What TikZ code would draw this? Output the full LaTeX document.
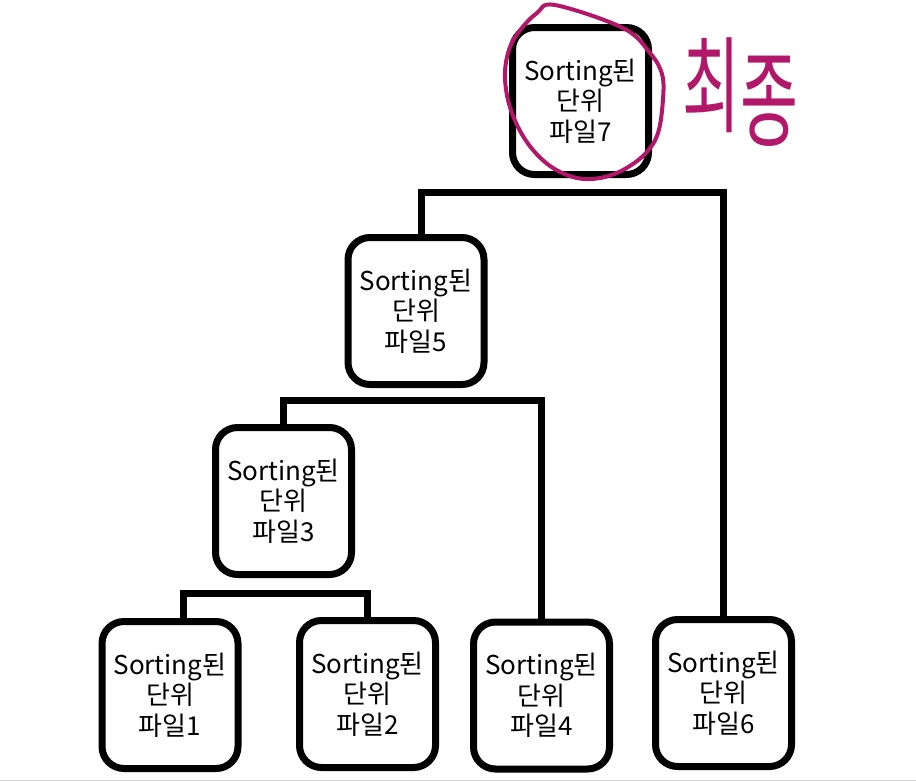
\documentclass[tikz,border=0pt]{standalone}
\usepackage{fontspec}
\setmainfont{Noto Sans CJK KR}
\definecolor{hand}{RGB}{178,24,106}
\definecolor{rule}{RGB}{212,212,212}
\tikzset{
  filebox/.style={draw=black, line width=7pt, rounded corners=22pt,
    minimum width=136pt, minimum height=147pt, inner sep=0pt, align=center,
    font=\fontsize{26}{30.5}\selectfont},
  conn/.style={draw=black, line width=7pt, line join=miter},
  handline/.style={draw=hand, line width=4pt, line cap=round, line join=round}
}
\begin{document}
\begin{tikzpicture}[x=1pt,y=-1pt]
\useasboundingbox (0,0) rectangle (916,782);
\fill[white] (0,0) rectangle (916,782);
% boxes
\node[filebox] (b7) at (580.5,101) {Sorting된\\단위\\파일7};
\node[filebox] (b5) at (416,311) {Sorting된\\단위\\파일5};
\node[filebox] (b3) at (283.5,501) {Sorting된\\단위\\파일3};
\node[filebox] (b1) at (170,695) {Sorting된\\단위\\파일1};
\node[filebox] (b2) at (367.5,694) {Sorting된\\단위\\파일2};
\node[filebox] (b4) at (541.5,695.5) {Sorting된\\단위\\파일4};
\node[filebox] (b6) at (723.5,693) {Sorting된\\단위\\파일6};
% connector levels
\coordinate (l1) at (0,593);
\coordinate (l2) at (0,400);
\coordinate (l3) at (0,192);
\draw[conn] ([xshift=13pt]b1.north) |- (l1 -| b2.north) -- (b2.north);
\draw[conn] (b3.north) |- (l2 -| b4.north) -- (b4.north);
\draw[conn] ([xshift=5pt]b5.north) |- (l3 -| b6.north) -- (b6.north);
% bottom rule
\draw[rule, line width=1.5pt] (0,780.5) -- (916,780.5);
% handwritten circle
\draw[handline] plot[smooth cycle, tension=0.6] coordinates {
  (555,5) (623,28) (650,53) (662,74) (663,99) (658,133) (645,154)
  (623,170) (600,178) (577,178) (553,168) (533,150) (518,127)
  (508,100) (505,72) (510,47) (521,29) (537,13)};
% handwritten label
\node[text=hand, font=\fontsize{105}{105}\selectfont, xscale=0.6, inner sep=0pt, anchor=center] (fin) at (740,92) {최\raisebox{-14pt}{종}};
\end{tikzpicture}
\end{document}
